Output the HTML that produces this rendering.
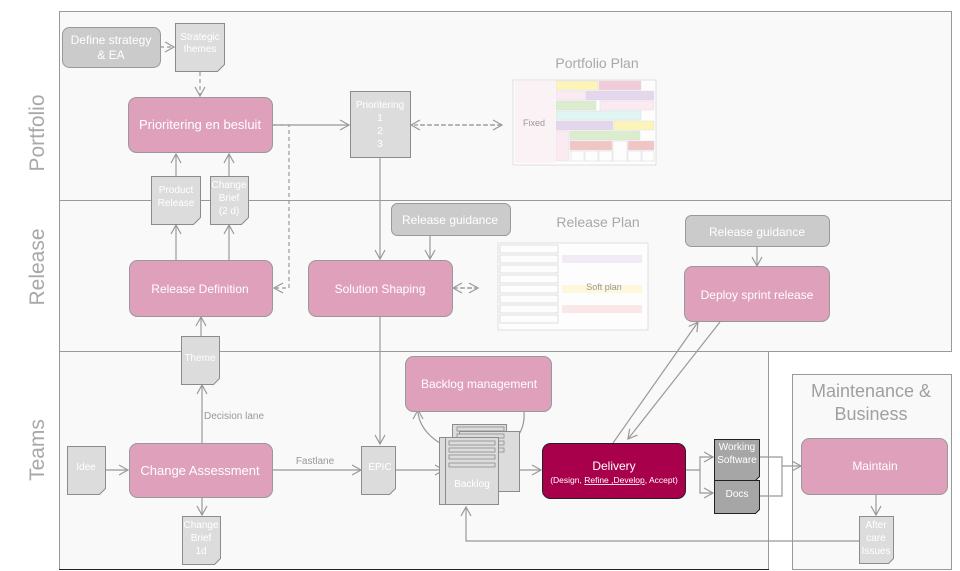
<!DOCTYPE html>
<html><head><meta charset="utf-8"><style>
html,body{margin:0;padding:0;background:#fff;}
svg{display:block;font-family:"Liberation Sans",Arial,sans-serif;}
.w{fill:#fff;text-anchor:middle;}
.ln{stroke:#999;stroke-width:1.2;fill:none;}
.dl{stroke:#999;stroke-width:1.2;fill:none;stroke-dasharray:4,3;}
.pk{fill:#dfa0bb;stroke:#999;stroke-width:1;}
.gr{fill:#cbcbcb;stroke:#999;stroke-width:1;}
.dc{fill:#dcdcdc;stroke:#8c8c8c;stroke-width:1;}
.dd{fill:#a6a6a6;stroke:#222;stroke-width:1;}
</style></head><body>
<svg width="960" height="571" viewBox="0 0 960 571">
<defs>
<marker id="a" markerWidth="12" markerHeight="12" refX="10" refY="6" orient="auto" markerUnits="userSpaceOnUse"><path d="M1,1 L10,6 L1,11" fill="none" stroke="#999" stroke-width="1.2"/></marker>
</defs>
<rect x="59.5" y="11.5" width="892" height="340" fill="#f9f9f9" stroke="#999"/>
<line x1="59" y1="200.5" x2="952" y2="200.5" stroke="#999"/>
<rect x="59.5" y="351.5" width="709" height="218" fill="#f9f9f9" stroke="#999"/>
<line x1="59" y1="569.5" x2="769" y2="569.5" stroke="#222"/>
<rect x="792.5" y="374.5" width="159" height="195" fill="#f9f9f9" stroke="#999"/>
<text transform="translate(44,133) rotate(-90)" font-size="21" fill="#a8a8a8" text-anchor="middle">Portfolio</text>
<text transform="translate(44,267) rotate(-90)" font-size="21" fill="#a8a8a8" text-anchor="middle">Release</text>
<text transform="translate(44,450) rotate(-90)" font-size="21" fill="#a8a8a8" text-anchor="middle">Teams</text>
<text x="871" y="397" font-size="18" fill="#a0a0a0" text-anchor="middle">Maintenance &amp;</text>
<text x="871" y="420" font-size="18" fill="#a0a0a0" text-anchor="middle">Business</text>

<text x="597" y="68" font-size="14" fill="#a8a8a8" text-anchor="middle">Portfolio Plan</text>
<g opacity="0.7">
<rect x="513" y="80" width="143" height="85" fill="#fff" stroke="#bbb" stroke-width="0.6"/>
<rect x="515" y="81" width="40" height="82" fill="#fdf0f4"/>
<rect x="556" y="81" width="42" height="9" fill="#fff3a0" stroke="#ccc" stroke-width="0.4"/><rect x="599" y="81" width="42" height="9" fill="#f0b8cc" stroke="#ccc" stroke-width="0.4"/>
<rect x="556" y="91" width="29" height="9" fill="#fde4ee" stroke="#ccc" stroke-width="0.4"/><rect x="586" y="91" width="68" height="9" fill="#dcc8e8" stroke="#ccc" stroke-width="0.4"/>
<rect x="556" y="101" width="40" height="9" fill="#cfe8bc" stroke="#ccc" stroke-width="0.4"/><rect x="600" y="101" width="54" height="9" fill="#fde4ee" stroke="#ccc" stroke-width="0.4"/>
<rect x="556" y="111" width="85" height="9" fill="#d8f2f2" stroke="#ccc" stroke-width="0.4"/>
<rect x="556" y="121" width="57" height="9" fill="#dcc8e8" stroke="#ccc" stroke-width="0.4"/><rect x="614" y="121" width="40" height="9" fill="#fff3a0" stroke="#ccc" stroke-width="0.4"/>
<rect x="570" y="131" width="70" height="9" fill="#cfe8bc" stroke="#ccc" stroke-width="0.4"/>
<rect x="570" y="141" width="42" height="9" fill="#f0b0b0" stroke="#ccc" stroke-width="0.4"/><rect x="628" y="141" width="26" height="9" fill="#f0b0b0" stroke="#ccc" stroke-width="0.4"/>
<rect x="556" y="131" width="13" height="30" fill="#fde4ee" stroke="#ccc" stroke-width="0.4"/>
<g fill="#fff" stroke="#bbb" stroke-width="0.4"><rect x="571" y="151" width="13" height="10"/><rect x="585" y="151" width="13" height="10"/><rect x="599" y="151" width="13" height="10"/><rect x="613" y="141" width="14" height="20"/><rect x="628" y="151" width="13" height="10"/><rect x="642" y="151" width="12" height="10"/></g>
</g>
<text x="534" y="126" font-size="9" fill="#999" text-anchor="middle">Fixed</text>
<text x="598" y="227" font-size="14" fill="#a8a8a8" text-anchor="middle">Release Plan</text>
<g opacity="0.7">
<rect x="498" y="243" width="150" height="87" fill="#fff" stroke="#bbb" stroke-width="0.6"/>
<g fill="#fff" stroke="#aaa" stroke-width="0.5">
<rect x="500" y="245" width="58" height="8"/><rect x="500" y="255" width="58" height="8"/><rect x="500" y="265" width="58" height="8"/><rect x="500" y="275" width="58" height="8"/><rect x="500" y="285" width="58" height="8"/><rect x="500" y="295" width="58" height="8"/><rect x="500" y="305" width="58" height="8"/><rect x="500" y="315" width="58" height="8"/>
</g>
<rect x="562" y="255" width="80" height="8" fill="#f0e4f4"/>
<rect x="562" y="285" width="80" height="8" fill="#fff7d0"/>
<rect x="562" y="305" width="80" height="8" fill="#fbe0e0"/>
</g>
<text x="604" y="290" font-size="9" fill="#999" text-anchor="middle">Soft plan</text>

<line class="dl" x1="160" y1="47" x2="174" y2="47" marker-end="url(#a)"/>
<line class="dl" x1="200" y1="72" x2="200" y2="96" marker-end="url(#a)"/>
<line class="ln" x1="273" y1="125" x2="349" y2="125" marker-end="url(#a)"/>
<polyline class="dl" points="273,125 289,125 289,288 274,288" marker-end="url(#a)"/>
<line class="dl" x1="420" y1="125" x2="502" y2="125" marker-end="url(#a)"/>
<line class="dl" x1="495" y1="125" x2="411" y2="125" marker-end="url(#a)"/>
<line class="ln" x1="176" y1="176" x2="176" y2="154" marker-end="url(#a)"/>
<line class="ln" x1="229" y1="176" x2="229" y2="154" marker-end="url(#a)"/>
<line class="ln" x1="176" y1="260" x2="176" y2="225" marker-end="url(#a)"/>
<line class="ln" x1="229" y1="260" x2="229" y2="225" marker-end="url(#a)"/>
<line class="ln" x1="201" y1="336" x2="201" y2="317" marker-end="url(#a)"/>
<line class="ln" x1="380" y1="157" x2="380" y2="259" marker-end="url(#a)"/>
<line class="ln" x1="430" y1="235" x2="430" y2="259" marker-end="url(#a)"/>
<line class="dl" x1="460" y1="288" x2="478" y2="288" marker-end="url(#a)"/>
<line class="dl" x1="472" y1="288" x2="453" y2="288" marker-end="url(#a)"/>
<line class="ln" x1="380" y1="316" x2="380" y2="444" marker-end="url(#a)"/>
<line class="ln" x1="757" y1="245" x2="757" y2="266" marker-end="url(#a)"/>
<line class="ln" x1="202" y1="443" x2="202" y2="385" marker-end="url(#a)"/>
<text x="204" y="419" font-size="10" fill="#999">Decision lane</text>
<line class="ln" x1="100" y1="470" x2="128" y2="470" marker-end="url(#a)"/>
<line class="ln" x1="273" y1="470" x2="361" y2="470" marker-end="url(#a)"/>
<text x="315" y="464" font-size="10" fill="#999" text-anchor="middle">Fastlane</text>
<line class="ln" x1="202" y1="497" x2="202" y2="515" marker-end="url(#a)"/>
<line class="ln" x1="395" y1="470" x2="444" y2="470" marker-end="url(#a)"/>
<line class="ln" x1="505" y1="470" x2="541" y2="470" marker-end="url(#a)"/>
<path class="ln" d="M450,448 C430,440 418,425 418,410" marker-end="url(#a)"/>
<path class="ln" d="M505,446 C520,440 525,425 524,412"/>
<line class="ln" x1="613" y1="443" x2="698" y2="322" marker-end="url(#a)"/>
<line class="ln" x1="720" y1="322" x2="628" y2="439" marker-end="url(#a)"/>
<polyline class="ln" points="686,470 700,470 700,457 713,457" marker-end="url(#a)"/>
<polyline class="ln" points="700,470 700,493 713,493" marker-end="url(#a)"/>
<polyline class="ln" points="759,457 782,457 782,496 759,496"/>
<line class="ln" x1="782" y1="466" x2="801" y2="466" marker-end="url(#a)"/>
<line class="ln" x1="876" y1="494" x2="876" y2="515" marker-end="url(#a)"/>
<polyline class="ln" points="859,541 466,541 466,507" marker-end="url(#a)"/>

<rect class="gr" x="62.5" y="27.5" width="98" height="40" rx="7"/>
<text class="w" x="111" y="44" font-size="12">Define strategy</text><text class="w" x="111" y="59" font-size="12">&amp; EA</text>
<path class="dc" d="M175.5,23.5h49v41l-7,7h-42z"/>
<text class="w" x="200" y="40" font-size="10">Strategic</text><text class="w" x="200" y="52" font-size="10">themes</text>
<rect class="pk" x="128.5" y="97.5" width="144" height="55" rx="8"/>
<text class="w" x="200" y="129" font-size="13">Prioritering en besluit</text>
<path class="dc" d="M350.5,91.5h60v66h-60z"/>
<text class="w" x="380" y="108" font-size="10">Prioritering</text><text class="w" x="380" y="121" font-size="10">1</text><text class="w" x="380" y="134" font-size="10">2</text><text class="w" x="380" y="147" font-size="10">3</text>
<path class="dc" d="M151.5,176.5h49v41l-7,7h-42z"/>
<text class="w" x="176" y="193" font-size="10">Product</text><text class="w" x="176" y="206" font-size="10">Release</text>
<path class="dc" d="M210.5,176.5h38v41l-7,7h-31z"/>
<text class="w" x="229" y="188" font-size="10">Change</text><text class="w" x="229" y="201" font-size="10">Brief</text><text class="w" x="229" y="214" font-size="10">(2 d)</text>
<rect class="pk" x="129.5" y="260.5" width="143" height="56" rx="8"/>
<text class="w" x="200" y="293" font-size="12">Release Definition</text>
<rect class="pk" x="308.5" y="260.5" width="144" height="56" rx="8"/>
<text class="w" x="380" y="293" font-size="12">Solution Shaping</text>
<rect class="gr" x="391.5" y="203.5" width="119" height="32" rx="6"/>
<text class="w" x="450" y="224" font-size="12">Release guidance</text>
<rect class="gr" x="685.5" y="215.5" width="144" height="31" rx="6"/>
<text class="w" x="757" y="236" font-size="12">Release guidance</text>
<rect class="pk" x="684.5" y="266.5" width="145" height="55" rx="8"/>
<text class="w" x="757" y="299" font-size="12">Deploy sprint release</text>
<path class="dc" d="M181.5,336.5h38v42l-6,6h-32z"/>
<text class="w" x="200" y="361" font-size="10">Theme</text>
<path class="dc" d="M67.5,446.5h38v42l-6,6h-32z"/>
<text class="w" x="86" y="470" font-size="10">Idee</text>
<rect class="pk" x="129.5" y="443.5" width="143" height="54" rx="8"/>
<text class="w" x="200" y="475" font-size="13">Change Assessment</text>
<path class="dc" d="M182.5,516.5h38v42l-6,6h-32z"/>
<text class="w" x="201" y="528" font-size="10">Change</text><text class="w" x="201" y="541" font-size="10">Brief</text><text class="w" x="201" y="554" font-size="10">1d</text>
<path class="dc" d="M361.5,446.5h34v42l-6,6h-28z"/>
<text class="w" x="380" y="470" font-size="10">EPIC</text>
<rect class="pk" x="405.5" y="356.5" width="146" height="55" rx="8"/>
<text class="w" x="479" y="388" font-size="12">Backlog management</text>
<rect class="dc" x="452.5" y="424.5" width="54" height="65"/>
<rect class="dc" x="459.5" y="431.5" width="60" height="60"/>
<g fill="#dcdcdc" stroke="#8c8c8c" stroke-width="0.8">
<rect x="457" y="427" width="47" height="4"/><rect x="457" y="434" width="47" height="4"/><rect x="457" y="441" width="47" height="4"/><rect x="457" y="448" width="47" height="4"/>
</g>
<rect class="dc" x="439.5" y="437.5" width="54" height="67"/>
<rect class="dc" x="445.5" y="437.5" width="53" height="67"/>
<g fill="#dcdcdc" stroke="#8c8c8c" stroke-width="0.8">
<rect x="449" y="441" width="46" height="4"/><rect x="449" y="448" width="46" height="4"/><rect x="449" y="455" width="46" height="4"/><rect x="449" y="463" width="46" height="4"/>
</g>
<text class="w" x="472" y="487" font-size="10">Backlog</text>
<rect x="542.5" y="443.5" width="143" height="55" rx="8" fill="#a8004a" stroke="#222"/>
<text class="w" x="614" y="470" font-size="12">Delivery</text>
<text class="w" x="614" y="483" font-size="8.5">(Design, <tspan text-decoration="underline">Refine ,Develop</tspan>, Accept)</text>
<path class="dd" d="M714.5,439.5h45v37l-4,4h-41z"/>
<text class="w" x="737" y="450" font-size="10">Working</text><text class="w" x="737" y="463" font-size="10">Software</text>
<path class="dd" d="M714.5,480.5h45v29l-4,4h-41z"/>
<text class="w" x="737" y="497" font-size="10">Docs</text>
<rect class="pk" x="801.5" y="438.5" width="146" height="56" rx="8"/>
<text class="w" x="875" y="470" font-size="12">Maintain</text>
<path class="dc" d="M859.5,516.5h34v42l-5,5h-29z"/>
<text class="w" x="876" y="528" font-size="10">After</text><text class="w" x="876" y="541" font-size="10">care</text><text class="w" x="876" y="554" font-size="10">Issues</text>
</svg>
</body></html>
